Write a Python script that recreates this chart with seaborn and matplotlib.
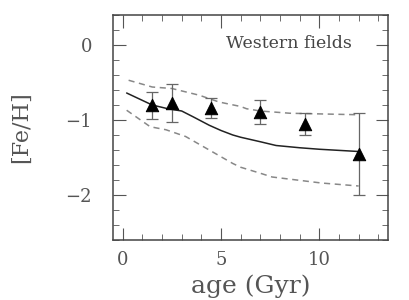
import numpy as np
import pandas as pd
import matplotlib
matplotlib.use("Agg")
import matplotlib.pyplot as plt
from matplotlib.ticker import MultipleLocator
import seaborn as sns

# Data
obs_age = [1.5, 2.5, 4.5, 7.0, 9.25, 12.0]
obs_feh = [-0.80, -0.77, -0.84, -0.89, -1.05, -1.45]
obs_err = [0.18, 0.25, 0.13, 0.16, 0.15, 0.55]

model_age = [0.2, 1.5, 2.3, 3.0, 3.6, 4.4, 5.0, 5.6, 6.0, 7.0, 7.8, 9.0, 10.0, 12.0]
model_feh = [-0.64, -0.80, -0.85, -0.88, -0.96, -1.07, -1.14, -1.20, -1.23, -1.29, -1.34, -1.37, -1.39, -1.42]

upper_age = [0.3, 1.5, 2.5, 3.9, 4.9, 6.0, 6.3, 7.0, 8.5, 12.0]
upper_feh = [-0.47, -0.56, -0.58, -0.67, -0.76, -0.82, -0.85, -0.88, -0.91, -0.93]

lower_age = [0.2, 1.4, 2.2, 3.2, 4.4, 5.6, 6.0, 7.0, 7.6, 10.1, 12.0]
lower_feh = [-0.87, -1.09, -1.13, -1.22, -1.40, -1.58, -1.63, -1.71, -1.76, -1.84, -1.88]

sns.set_style("ticks")
plt.rcParams["font.family"] = ["DejaVu Serif"]

fig = plt.figure(figsize = (4.09, 3.0), dpi = 100)
ax = fig.add_axes([0.276, 0.20, 0.673, 0.75])

model = pd.DataFrame({"age": model_age, "feh": model_feh})
upper = pd.DataFrame({"age": upper_age, "feh": upper_feh})
lower = pd.DataFrame({"age": lower_age, "feh": lower_feh})

sns.lineplot(data = model, x = "age", y = "feh", color = "#222222", lw = 1.1, ax = ax)
sns.lineplot(data = upper, x = "age", y = "feh", color = "#888888", lw = 1.1, ax = ax, linestyle = (0, (4, 3)))
sns.lineplot(data = lower, x = "age", y = "feh", color = "#888888", lw = 1.1, ax = ax, linestyle = (0, (4, 3)))

ax.errorbar(obs_age, obs_feh, yerr = obs_err, fmt = "none", ecolor = "#666666", elinewidth = 0.9, capsize = 4, capthick = 0.9)
sns.scatterplot(x = obs_age, y = obs_feh, marker = "^", s = 80, color = "black", edgecolor = "black", ax = ax, zorder = 5)

ax.set_xlim(-0.5, 13.5)
ax.set_ylim(-2.6, 0.4)
ax.xaxis.set_major_locator(MultipleLocator(5))
ax.xaxis.set_minor_locator(MultipleLocator(1))
ax.yaxis.set_major_locator(MultipleLocator(1))
ax.yaxis.set_minor_locator(MultipleLocator(0.2))
ax.tick_params(which = "both", direction = "in", top = True, right = True, color = "#555555")
ax.tick_params(which = "major", length = 9, labelsize = 13, labelcolor = "#555555")
ax.tick_params(axis = "x", which = "major", pad = 8)
ax.tick_params(axis = "y", which = "major", pad = 15)
ax.tick_params(which = "minor", length = 4)
ax.set_xticks([0, 5, 10])
ax.set_xticklabels(["0", "5", "10"])
ax.set_yticks([0, -1, -2])
ax.set_yticklabels(["0", "\u22121", "\u22122"])

for s in ax.spines.values():
    s.set_color("#444444")
    s.set_linewidth(1.1)

ax.text(0.87, 0.875, "Western fields", transform = ax.transAxes, ha = "right", va = "center", fontsize = 12.5, color = "#444444")
ax.set_xlabel("age (Gyr)", fontsize = 18, color = "#555555", labelpad = 4)
ax.set_ylabel("[Fe/H]", fontsize = 16, color = "#555555", labelpad = 24)

fig.savefig("out.png", dpi = 100)
plt.close()
